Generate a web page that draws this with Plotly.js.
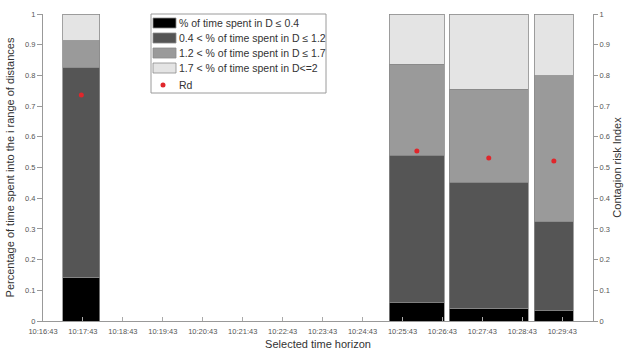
<!DOCTYPE html>
<html>
<head>
<meta charset="utf-8">
<script src="https://cdn.plot.ly/plotly-3.0.1.min.js"></script>
<style>html,body{margin:0;padding:0;background:#fff;}#chart{width:629px;height:351px;}</style>
</head>
<body>
<div id="chart"></div>
<script>
// Time in minutes since 10:16:43 (bar centre) and interval length (bar width)
var barCenter = [0.96, 9.36, 11.16, 12.79];
var barWidth = [0.93, 1.375, 1.975, 0.975];
// Share of time spent in each distance range
var shareLe04 = [0.143, 0.060, 0.041, 0.034];
var share04to12 = [0.682, 0.480, 0.411, 0.289];
var share12to17 = [0.088, 0.297, 0.303, 0.476];
var share17to2 = [0.087, 0.163, 0.245, 0.201];
// Contagion risk index
var rd = [0.736, 0.554, 0.531, 0.521];
// Tick labels
var tickVals = [0,1,2,3,4,5,6,7,8,9,10,11,12,13];
var tickLabels = ["10:16:43","10:17:43","10:18:43","10:19:43","10:20:43","10:21:43","10:22:43","10:23:43","10:24:43","10:25:43","10:26:43","10:27:43","10:28:43","10:29:43"];
var seriesNames = ["% of time spent in D \u2264 0.4","0.4 < % of time spent in D \u2264 1.2","1.2 < % of time spent in D \u2264 1.7","1.7 < % of time spent in D<=2"];
var seriesValues = [shareLe04, share04to12, share12to17, share17to2];
var seriesColors = ["#000000","#555555","#9a9a9a","#e4e4e4"];
var rdName = "Rd";
var rdColor = "#e0262b";

var traces = seriesValues.map(function(v, i){
  return {type:'bar', x:barCenter, y:v, width:barWidth, name:seriesNames[i],
    marker:{color:seriesColors[i], line:{color:'#8a8a8a', width:0.8}}, hoverinfo:'skip'};
});
traces.push({type:'scatter', mode:'markers', x:barCenter, y:rd, yaxis:'y2', name:rdName,
  marker:{color:rdColor, size:5}});

// Plot area geometry (pixels) for a hand-built legend matching the reference's
var M = {l:43, r:36, t:14, b:30}, W = 629, H = 351;
var pw = W - M.l - M.r, ph = H - M.t - M.b;
function px(x){ return (x - M.l) / pw; }
function py(y){ return (H - M.b - y) / ph; }

var fontFam = 'Liberation Sans, Arial, sans-serif';
var shapes = [], annotations = [];
// legend box
shapes.push({type:'rect', xref:'paper', yref:'paper', x0:px(151), x1:px(326), y0:py(93), y1:py(14),
  line:{color:'#9a9a9a', width:1}, fillcolor:'#ffffff', layer:'above'});
var rowY = [23, 38, 53, 68, 85];
seriesNames.forEach(function(n, i){
  shapes.push({type:'rect', xref:'paper', yref:'paper', x0:px(153), x1:px(176),
    y0:py(rowY[i] + 5), y1:py(rowY[i] - 5), line:{color:'#8a8a8a', width:0.8},
    fillcolor:seriesColors[i], layer:'above'});
  annotations.push({xref:'paper', yref:'paper', x:px(177), y:py(rowY[i]), xanchor:'left', yanchor:'middle',
    text:n, showarrow:false, font:{family:fontFam, size:10.5, color:'#333'}});
});
shapes.push({type:'circle', xref:'paper', yref:'paper', x0:px(160.5), x1:px(165.5),
  y0:py(rowY[4] + 2.5), y1:py(rowY[4] - 2.5), line:{width:0}, fillcolor:rdColor, layer:'above'});
annotations.push({xref:'paper', yref:'paper', x:px(177), y:py(rowY[4]), xanchor:'left', yanchor:'middle',
  text:rdName, showarrow:false, font:{family:fontFam, size:10.5, color:'#333'}});

var tickFont = {family:fontFam, size:7.5, color:'#555'};
var titleFont = {family:fontFam, size:11, color:'#333'};
var layout = {
  width:W, height:H,
  margin:M,
  paper_bgcolor:'#fff', plot_bgcolor:'#fff',
  barmode:'stack',
  showlegend:false,
  shapes:shapes, annotations:annotations,
  xaxis:{range:[0,13.77], tickvals:tickVals, ticktext:tickLabels, tickfont:tickFont,
    showgrid:false, zeroline:false, showline:true, linecolor:'#999', linewidth:1,
    ticks:'inside', ticklen:4, tickcolor:'#aaa', tickangle:0, ticklabelstandoff:3,
    title:{text:'Selected time horizon', font:titleFont, standoff:5}},
  yaxis:{range:[0,1], dtick:0.1, tickfont:tickFont, showgrid:false, zeroline:false,
    showline:true, linecolor:'#999', linewidth:1, ticks:'outside', ticklen:5, tickcolor:'#999',
    title:{text:'Percentage of time spent into the i range of distances', font:titleFont, standoff:8}},
  yaxis2:{range:[0,1], dtick:0.1, overlaying:'y', side:'right', tickfont:tickFont,
    showgrid:false, zeroline:false, showline:true, linecolor:'#999', linewidth:1,
    ticks:'outside', ticklen:4, tickcolor:'#999',
    title:{text:'Contagion risk Index', font:titleFont, standoff:4}}
};
Plotly.newPlot('chart', traces, layout, {displayModeBar:false, staticPlot:true});
</script>
</body>
</html>
